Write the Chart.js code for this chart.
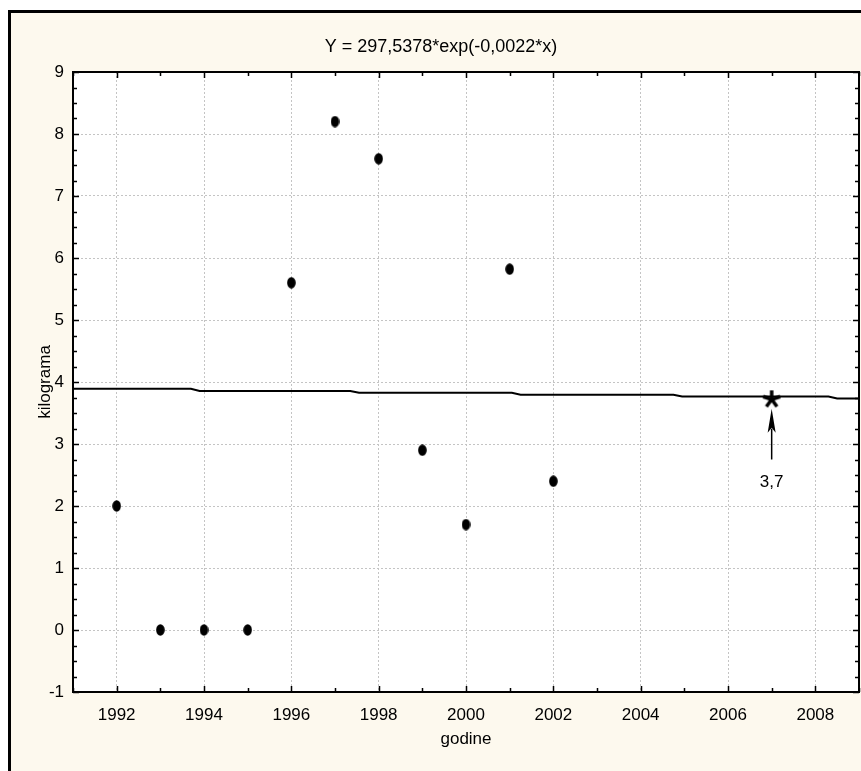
<!DOCTYPE html>
<html><head><meta charset="utf-8">
<script src="https://cdn.jsdelivr.net/npm/chart.js@4"></script>
<style>html,body{margin:0;padding:0;background:#fff}#wrap{width:861px;height:771px;position:relative}</style>
</head><body><div id="wrap"><canvas id="c" width="861" height="771"></canvas></div>
<script>
// ---- data ----
const years = [1992, 1993, 1994, 1995, 1996, 1997, 1998, 1999, 2000, 2001, 2002];
const kilograms = [2.0, 0.0, 0.0, 0.0, 5.6, 8.2, 7.6, 2.9, 1.7, 5.82, 2.4];
const fitYears = [1991, 1993.7, 1993.9, 1997.35, 1997.55, 2001.05, 2001.25, 2004.75, 2004.95, 2008.3, 2008.5, 2009];
const fitValues = [3.89, 3.89, 3.855, 3.855, 3.825, 3.825, 3.795, 3.795, 3.765, 3.765, 3.735, 3.735];
const markYears = [2007];
const markValues = [3.72];
const markLabel = '3,7';
const arrowValues = [2.75, 3.57];   // shaft start, arrow tip
const markLabelValue = 2.38;
const xTicks = [1992, 1994, 1996, 1998, 2000, 2002, 2004, 2006, 2008];
const yTicks = [-1, 0, 1, 2, 3, 4, 5, 6, 7, 8, 9];
const titleText = 'Y = 297,5378*exp(-0,0022*x)';
const xTitle = 'godine';
const yTitle = 'kilograma';

// ---- styling ----
const FONT = '"Liberation Sans", Arial, sans-serif';
const CREAM = '#fdf9ee';

function ellipseMarker(w, h) {
  const c = document.createElement('canvas');
  c.width = w; c.height = h;
  const g = c.getContext('2d');
  g.fillStyle = '#000';
  g.beginPath(); g.ellipse(w / 2, h / 2, w / 2 - 0.2, h / 2 - 0.2, 0, 0, Math.PI * 2); g.fill();
  return c;
}
function asteriskMarker(s) {
  const c = document.createElement('canvas');
  c.width = s; c.height = s;
  const g = c.getContext('2d');
  g.strokeStyle = '#000'; g.lineWidth = 3.5; g.lineCap = 'butt';
  const r = s / 2 - 1;
  for (let i = 0; i < 5; i++) {
    const a = -Math.PI / 2 + i * 2 * Math.PI / 5;
    g.beginPath(); g.moveTo(s / 2, s / 2); g.lineTo(s / 2 + r * Math.cos(a), s / 2 + r * Math.sin(a)); g.stroke();
  }
  return c;
}

const decor = {
  id: 'decor',
  beforeDraw(chart) {
    const ctx = chart.ctx, a = chart.chartArea;
    ctx.save();
    ctx.fillStyle = '#fff'; ctx.fillRect(0, 0, chart.width, chart.height);
    ctx.fillStyle = CREAM; ctx.fillRect(10, 12, chart.width - 10, chart.height - 12);
    ctx.strokeStyle = '#000'; ctx.lineWidth = 3;
    ctx.beginPath(); ctx.moveTo(9.5, chart.height + 3); ctx.lineTo(9.5, 11.5); ctx.lineTo(chart.width + 3, 11.5); ctx.stroke();
    ctx.fillStyle = '#fff'; ctx.fillRect(a.left, a.top, a.right - a.left, a.bottom - a.top);
    ctx.restore();
  },
  afterDraw(chart) {
    const ctx = chart.ctx, a = chart.chartArea;
    const xs = chart.scales.x, ys = chart.scales.y;
    ctx.save();
    // plot frame
    ctx.strokeStyle = '#000'; ctx.lineWidth = 2;
    ctx.strokeRect(a.left, a.top, a.right - a.left, a.bottom - a.top);
    // inward tick marks
    ctx.lineWidth = 1.5;
    ctx.beginPath();
    for (let v = Math.ceil(xs.min); v <= xs.max; v++) {
      const px = Math.round(xs.getPixelForValue(v)) + 0.5;
      const len = xTicks.includes(v) ? 6 : 4;
      ctx.moveTo(px, a.bottom); ctx.lineTo(px, a.bottom - len);
      ctx.moveTo(px, a.top); ctx.lineTo(px, a.top + len);
    }
    for (let v = ys.min; v <= ys.max + 1e-9; v += 0.25) {
      const py = Math.round(ys.getPixelForValue(v)) + 0.5;
      const len = Math.abs(v - Math.round(v)) < 1e-9 ? 6 : 4;
      ctx.moveTo(a.left, py); ctx.lineTo(a.left + len, py);
      ctx.moveTo(a.right, py); ctx.lineTo(a.right - len, py);
    }
    ctx.stroke();
    // arrow under the marker
    const ax = xs.getPixelForValue(markYears[0]);
    const y0 = ys.getPixelForValue(arrowValues[0]);
    const y1 = ys.getPixelForValue(arrowValues[1]);
    ctx.fillStyle = '#000';
    ctx.lineWidth = 1.5;
    ctx.beginPath(); ctx.moveTo(ax, y0); ctx.lineTo(ax, y1 + 20); ctx.stroke();
    ctx.beginPath(); ctx.moveTo(ax, y1); ctx.lineTo(ax - 4, y1 + 24); ctx.lineTo(ax, y1 + 19); ctx.lineTo(ax + 4, y1 + 24); ctx.closePath(); ctx.fill();
    // label
    ctx.font = '17px ' + FONT;
    ctx.textAlign = 'center'; ctx.textBaseline = 'middle';
    ctx.fillText(markLabel, ax, ys.getPixelForValue(markLabelValue));
    // title
    ctx.font = '18px ' + FONT;
    ctx.fillText(titleText, 441, 47);
    ctx.restore();
  }
};

new Chart(document.getElementById('c'), {
  type: 'scatter',
  data: {
    datasets: [
      {
        label: 'fit',
        data: fitYears.map((x, i) => ({ x, y: fitValues[i] })),
        showLine: true, borderColor: '#000', borderWidth: 2, pointRadius: 0, fill: false, tension: 0
      },
      {
        label: 'kilograma',
        data: years.map((x, i) => ({ x, y: kilograms[i] })),
        pointStyle: ellipseMarker(9, 12), pointRadius: 6
      },
      {
        label: 'mark',
        data: markYears.map((x, i) => ({ x, y: markValues[i] })),
        pointStyle: asteriskMarker(20), pointRadius: 10
      }
    ]
  },
  options: {
    responsive: false, animation: false, devicePixelRatio: 1,
    layout: { autoPadding: false, padding: { top: 72, right: 2, left: 0, bottom: 0 } },
    plugins: { legend: { display: false }, tooltip: { enabled: false }, title: { display: false } },
    scales: {
      x: {
        type: 'linear', min: 1991, max: 2009,
        afterBuildTicks: s => { s.ticks = xTicks.map(v => ({ value: v })); },
        afterFit: s => { s.height = 79; s.paddingLeft = 0; s.paddingRight = 0; },
        ticks: { color: '#000', font: { family: FONT, size: 17 }, padding: 13, maxRotation: 0, autoSkip: false, callback: v => String(v) },
        grid: { color: '#c4c4c4', lineWidth: 1, drawTicks: false },
        border: { display: false, dash: [2, 2] },
        title: { display: true, text: xTitle, color: '#000', font: { family: FONT, size: 17 }, padding: { top: 0, bottom: 21 } }
      },
      y: {
        type: 'linear', min: -1, max: 9,
        afterBuildTicks: s => { s.ticks = yTicks.map(v => ({ value: v })); },
        afterFit: s => { s.width = 73; s.paddingTop = 0; s.paddingBottom = 0; },
        ticks: { color: '#000', font: { family: FONT, size: 17 }, padding: 9, callback: v => String(v) },
        grid: { color: '#c4c4c4', lineWidth: 1, drawTicks: false },
        border: { display: false, dash: [2, 2] },
        title: { display: true, text: yTitle, color: '#000', font: { family: FONT, size: 17 }, padding: { top: 35, bottom: 0 } }
      }
    }
  },
  plugins: [decor]
});
</script>
</body></html>
